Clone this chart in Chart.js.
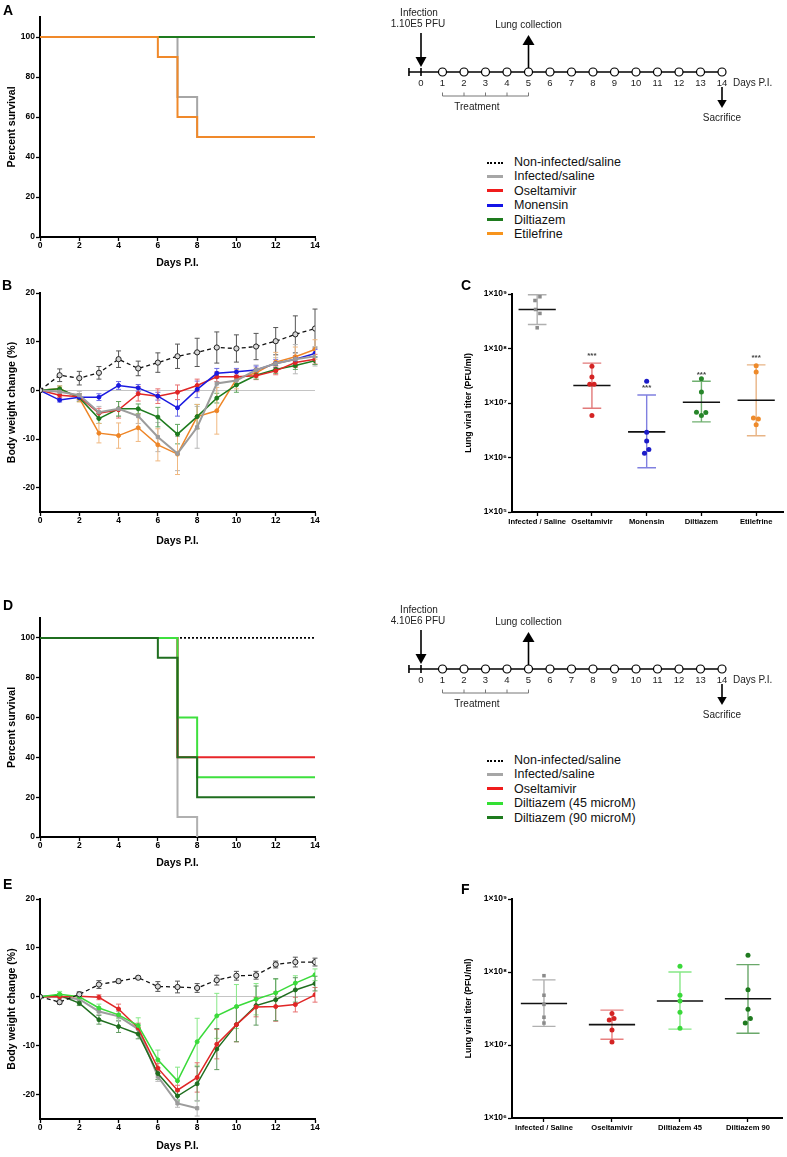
<!DOCTYPE html>
<html>
<head>
<meta charset="utf-8">
<script src="https://cdn.jsdelivr.net/npm/chart.js@4.4.0/dist/chart.umd.min.js"></script>
<style>
  body { margin:0; background:#fff; width:787px; height:1157px; position:relative; overflow:hidden;
         font-family:"Liberation Sans", Arial, sans-serif; }
  .box { position:absolute; }
  .letter { position:absolute; font-weight:bold; font-size:14px; line-height:14px; }
  .legend { position:absolute; font-size:12.5px; color:#111; }
  .legend .row { height:14.4px; line-height:14.4px; position:relative; padding-left:27px; white-space:nowrap; }
  .legend .sw { position:absolute; left:0; top:5.5px; width:16px; height:0; border-top:3.5px solid; }
  .legend .sw.dot { border-top:2px dotted #000; top:7px; }
</style>
</head>
<body>
<script>
// ---- shared ----
var days = [0,1,2,3,4,5,6,7,8,9,10,11,12,13,14];
var dayTicks = [0,2,4,6,8,10,12,14];
var survTicks = [0,20,40,60,80,100];
var weightTicks = [-20,-10,0,10,20];

// ---- experiment 1 (A, B, C) ----
var groups1 = ['Non-infected/saline','Infected/saline','Oseltamivir','Monensin','Diltiazem','Etilefrine'];
var legendColors1 = ['#000','#a6a6a6','#f01c1c','#1414e6','#1e7b1e','#f7941d'];

// Kaplan-Meier steps: [day, percent]
var survA_NonInf = [[0,100],[14,100]];
var survA_Infected = [[0,100],[7,70],[8,50],[14,50]];
var survA_Oseltamivir = [[0,100],[14,100]];
var survA_Monensin = [[0,100],[14,100]];
var survA_Diltiazem = [[0,100],[14,100]];
var survA_Etilefrine = [[0,100],[6,90],[7,60],[8,50],[14,50]];

var wB_NonInf = [0,3.1,2.5,3.6,6.4,4.5,5.7,7.0,7.8,8.8,8.6,9.0,10.1,11.5,12.7];
var sdB_NonInf = [0,1.3,1.4,1.3,1.7,1.5,2.0,2.5,2.9,3.2,2.8,2.7,2.8,3.8,4.0];
var wB_Infected = [0,-0.3,-1.0,-4.5,-3.8,-5.3,-9.6,-13.0,-7.6,1.4,2.0,4.2,5.5,6.4,7.0];
var sdB_Infected = [0,0.5,0.8,1.2,1.5,1.5,3.0,3.5,4.3,1.5,1.0,1.0,1.2,3.0,2.0];
var wB_Oseltamivir = [0,-1.0,-1.3,-4.7,-4.0,-0.7,-1.2,-0.4,1.0,2.8,2.8,3.0,4.0,5.7,6.4];
var sdB_Oseltamivir = [0,0.5,0.6,1.0,1.7,1.5,1.5,1.5,1.3,1.0,0.8,0.8,0.8,1.0,1.0];
var wB_Monensin = [0,-2.0,-1.4,-1.4,1.0,0.5,-1.2,-3.6,0.2,3.5,3.8,4.2,5.5,6.4,7.6];
var sdB_Monensin = [0,0.4,0.6,0.7,0.8,0.7,0.8,1.7,1.7,1.0,0.7,0.8,0.8,0.7,0.8];
var wB_Diltiazem = [0,0.3,-1.5,-5.8,-3.8,-3.8,-5.5,-9.0,-5.4,-1.6,1.1,3.1,4.3,5.1,6.1];
var sdB_Diltiazem = [0,0.6,0.8,1.0,1.5,1.0,2.0,2.0,2.5,1.0,1.5,0.8,0.8,0.8,0.8];
var wB_Etilefrine = [0,0.3,-1.6,-8.8,-9.3,-7.7,-11.2,-13.1,-5.4,-4.2,2.3,3.6,5.8,6.9,8.4];
var sdB_Etilefrine = [0,0.6,0.8,2.0,2.6,2.8,3.3,4.2,2.5,4.8,2.0,1.0,2.0,2.0,2.0];

var catsC = ['Infected / Saline','Oseltamivir','Monensin','Diltiazem','Etilefrine'];
var titerC_Infected = [8.9e8,7.6e8,5.2e8,4.4e8,2.4e8];
var titerC_Oseltamivir = [4.7e7,3.0e7,2.2e7,2.2e7,5.9e6];
var titerC_Monensin = [2.5e7,2.9e6,2.0e6,1.4e6,1.2e6];
var titerC_Diltiazem = [2.8e7,1.6e7,6.8e6,6.7e6,5.9e6];
var titerC_Etilefrine = [4.8e7,3.7e7,5.3e6,5.1e6,4.0e6];
var jitterC = [[0.05,-0.04,-0.03,0.05,0],[0,0,-0.04,0.04,0],[0,0,0,0.04,-0.04],[0,0,-0.09,0.08,0],[0,0,-0.05,0.04,0]];
var meanC = [5.2e8,2.1e7,2.95e6,1.03e7,1.12e7];
var sdHiC = [9.7e8,5.4e7,1.4e7,2.5e7,5.0e7];
var sdLoC = [2.75e8,8.0e6,6.5e5,4.5e6,2.5e6];
var sigC = ['','***','***','***','***'];
var titerTicks = [1e5,1e6,1e7,1e8,1e9];

// ---- experiment 2 (D, E, F) ----
var groups2 = ['Non-infected/saline','Infected/saline','Oseltamivir','Diltiazem (45 microM)','Diltiazem (90 microM)'];
var legendColors2 = ['#000','#a6a6a6','#f01c1c','#33e033','#1e7b1e'];

var survD_NonInf = [[0,100],[14,100]];
var survD_Infected = [[0,100],[7,10],[8,0]];
var survD_Oseltamivir = [[0,100],[7,40],[14,40]];
var survD_Dilt45 = [[0,100],[7,60],[8,30],[14,30]];
var survD_Dilt90 = [[0,100],[6,90],[7,40],[8,20],[14,20]];

var wE_NonInf = [0,-1.1,0.5,2.5,3.2,3.9,2.1,2.0,1.8,3.4,4.3,4.4,6.6,7.1,7.1];
var sdE_NonInf = [0,0.4,0.5,0.8,0.4,0.3,1.0,1.2,0.9,1.0,0.9,0.8,0.7,1.0,0.8];
var wE_Infected = [0,0,-0.5,-3.0,-4.0,-6.6,-16.3,-21.8,-22.8];
var sdE_Infected = [0,0.4,0.5,0.6,1.0,1.0,1.0,0.8,1.6];
var wE_Oseltamivir = [0,0,0.1,-0.1,-2.5,-6.4,-14.6,-19.1,-16.5,-9.7,-5.7,-2.1,-2.0,-1.6,0.4];
var sdE_Oseltamivir = [0,0,0.3,0.5,1.0,1.0,1.0,1.0,3.0,3.0,3.5,2.0,3.0,1.5,1.5];
var wE_Dilt45 = [0,0.5,0,-2.3,-3.7,-5.9,-12.9,-17.2,-9.2,-3.9,-2.0,-0.5,0.8,2.8,4.5];
var sdE_Dilt45 = [0,0.6,0.4,0.8,0.8,1.6,2.0,2.8,4.8,4.6,4.5,3.2,2.8,1.5,1.2];
var wE_Dilt90 = [0,0.3,-1.3,-4.7,-6.1,-7.6,-15.7,-20.3,-17.8,-10.7,-5.7,-1.8,-0.6,1.4,2.7];
var sdE_Dilt90 = [0,0.4,0.5,0.9,1.2,1.0,1.2,1.0,3.5,4.2,3.5,4.0,4.3,2.5,1.5];

var catsF = ['Infected / Saline','Oseltamivir','Diltiazem 45','Diltiazem 90'];
var titerF_Infected = [8.9e7,4.8e7,3.6e7,2.4e7,2.0e7];
var titerF_Oseltamivir = [2.7e7,2.3e7,2.2e7,1.6e7,1.1e7];
var titerF_Dilt45 = [1.2e8,4.8e7,4.0e7,2.8e7,1.7e7];
var titerF_Dilt90 = [1.7e8,5.7e7,3.1e7,2.3e7,2.0e7];
var jitterF = [[0,0,0,0,0],[0,0.03,-0.04,0,0],[0,0,0,0,0],[0,0,0,0.035,-0.04]];
var meanF = [3.7e7,1.9e7,4.0e7,4.3e7];
var sdHiF = [7.8e7,3.0e7,1.0e8,1.26e8];
var sdLoF = [1.8e7,1.2e7,1.65e7,1.45e7];
var sigF = ['','','',''];
var titerTicksF = [1e6,1e7,1e8,1e9];

// ---- timelines ----
var tlDays = days;
var tlTreatDays = [1,2,3,4,5];
var tl1Infection = ['Infection','1.10E5 PFU'];
var tl2Infection = ['Infection','4.10E6 PFU'];

var FONT = '"Liberation Sans", Arial, sans-serif';
Chart.defaults.font.family = FONT;
Chart.defaults.color = '#000';
Chart.defaults.animation = false;
Chart.defaults.plugins.legend.display = false;
Chart.defaults.plugins.tooltip.enabled = false;

function makeCanvas(left, top, w, h) {
  var div = document.createElement('div');
  div.className = 'box';
  div.style.left = left + 'px';
  div.style.top = top + 'px';
  var c = document.createElement('canvas');
  c.width = w; c.height = h;
  c.style.width = w + 'px'; c.style.height = h + 'px';
  div.appendChild(c);
  document.body.appendChild(div);
  return c.getContext('2d');
}

// place a chart so its plot area lands on page box {l,t,r,b}
function place(left, top, w, h, area, config) {
  config.options.responsive = false;
  config.options.devicePixelRatio = 1;
  config.options.layout = {padding: {top: area.t - top, right: left + w - area.r, left: 0, bottom: 0}};
  var xs = config.options.scales.x, ys = config.options.scales.y;
  xs.afterFit = function(s) { s.height = top + h - area.b; };
  if (ys.display === false) config.options.layout.padding.left = area.l - left;
  else ys.afterFit = function(s) { s.width = area.l - left; };
  return new Chart(makeCanvas(left, top, w, h), config);
}

function fixedTicks(list) {
  return function(s) { s.ticks = list.map(function(v) { return {value: v}; }); };
}

function axisGrid(zero) {
  return {
    display: true, drawOnChartArea: !!zero, drawTicks: true, tickLength: 4,
    tickColor: '#000', tickWidth: 1.3, lineWidth: 1,
    color: function(c) { return zero && c.tick && c.tick.value === 0 ? '#c4c4c4' : 'rgba(0,0,0,0)'; }
  };
}

function dayAxis() {
  return {
    type: 'linear', min: 0, max: 14,
    afterBuildTicks: fixedTicks(dayTicks),
    grid: axisGrid(false),
    border: {display: true, color: '#000', width: 2},
    ticks: {font: {size: 8.5, weight: 'bold'}, padding: 0, maxRotation: 0, autoSkip: false},
    title: {display: true, text: 'Days P.I.', font: {size: 10.5, weight: 'bold'}, padding: {top: 0, bottom: 4}}
  };
}

function valueAxis(min, max, ticks, title, zero) {
  return {
    type: 'linear', min: min, max: max,
    afterBuildTicks: fixedTicks(ticks),
    grid: axisGrid(zero),
    border: {display: true, color: '#000', width: 2},
    ticks: {font: {size: 8.5, weight: 'bold'}, padding: 1},
    title: {display: true, text: title, font: {size: 10.5, weight: 'bold'}, padding: {top: 6, bottom: 0}}
  };
}

function survSet(pairs, color, dash) {
  return {
    data: pairs.map(function(p) { return {x: p[0], y: p[1]}; }),
    stepped: true, borderColor: color, borderWidth: dash ? 1.6 : 2,
    borderDash: dash || [], pointRadius: 0, fill: false
  };
}

function weightSet(vals, sds, color, errColor, style) {
  style = style || {};
  return {
    data: vals.map(function(v, i) { return {x: days[i], y: v}; }),
    errors: sds, errorColor: errColor,
    borderColor: color, borderWidth: style.width || 1.5, borderDash: style.dash || [],
    pointStyle: style.point || 'circle', pointRadius: style.radius || 2,
    pointBackgroundColor: style.fill || color, pointBorderColor: style.pointBorder || color,
    pointBorderWidth: 1, fill: false
  };
}

function titerSet(vals, idx, jit, color, shape) {
  return {
    type: 'scatter',
    data: vals.map(function(v, i) { return {x: idx + jit[i], y: v}; }),
    pointStyle: shape || 'circle', pointRadius: 2.5,
    pointBackgroundColor: color, pointBorderColor: color, pointBorderWidth: 0
  };
}

// SD error bars for the weight curves
var errorBars = {
  id: 'errorBars',
  beforeDatasetsDraw: function(chart) {
    var ctx = chart.ctx, ys = chart.scales.y;
    chart.data.datasets.forEach(function(ds, i) {
      if (!ds.errors) return;
      var meta = chart.getDatasetMeta(i);
      ctx.save();
      ctx.strokeStyle = ds.errorColor;
      ctx.lineWidth = 1;
      meta.data.forEach(function(pt, j) {
        var e = ds.errors[j];
        if (!e) return;
        var v = ds.data[j].y;
        var y1 = ys.getPixelForValue(v + e), y2 = ys.getPixelForValue(v - e);
        ctx.beginPath();
        ctx.moveTo(pt.x, y1); ctx.lineTo(pt.x, y2);
        ctx.moveTo(pt.x - 2.5, y1); ctx.lineTo(pt.x + 2.5, y1);
        ctx.moveTo(pt.x - 2.5, y2); ctx.lineTo(pt.x + 2.5, y2);
        ctx.stroke();
      });
      ctx.restore();
    });
  }
};

// mean line + SD bar + significance stars for the titer plots
var summary = {
  id: 'summary',
  beforeDatasetsDraw: function(chart, args, o) {
    var ctx = chart.ctx, xs = chart.scales.x, ys = chart.scales.y;
    ctx.save();
    o.means.forEach(function(m, i) {
      var xc = xs.getPixelForValue(i);
      var half = xs.getPixelForValue(i + 0.34) - xc;
      var cap = xs.getPixelForValue(i + 0.17) - xc;
      var yHi = ys.getPixelForValue(o.hi[i]), yLo = ys.getPixelForValue(o.lo[i]), yM = ys.getPixelForValue(m);
      ctx.strokeStyle = o.barColors[i];
      ctx.lineWidth = 1.4;
      ctx.beginPath();
      ctx.moveTo(xc, yHi); ctx.lineTo(xc, yLo);
      ctx.moveTo(xc - cap, yHi); ctx.lineTo(xc + cap, yHi);
      ctx.moveTo(xc - cap, yLo); ctx.lineTo(xc + cap, yLo);
      ctx.stroke();
      ctx.strokeStyle = '#111';
      ctx.lineWidth = 1.6;
      ctx.beginPath();
      ctx.moveTo(xc - half, yM); ctx.lineTo(xc + half, yM);
      ctx.stroke();
      if (o.sig[i]) {
        ctx.fillStyle = '#444';
        ctx.font = 'bold 8px ' + FONT;
        ctx.textAlign = 'center';
        ctx.textBaseline = 'bottom';
        ctx.fillText(o.sig[i], xc, yHi - 3);
      }
    });
    ctx.restore();
  }
};

// arrows, bracket and notes of the protocol timeline
var timeline = {
  id: 'timeline',
  afterDatasetsDraw: function(chart, args, o) {
    var ctx = chart.ctx, xs = chart.scales.x;
    var y0 = chart.scales.y.getPixelForValue(0);
    var xi = xs.getPixelForValue(o.infectionDay);
    var xc = xs.getPixelForValue(o.collectDay);
    var xsac = xs.getPixelForValue(o.sacrificeDay);
    ctx.save();
    ctx.fillStyle = '#000'; ctx.strokeStyle = '#000'; ctx.lineWidth = 1.6;
    function arrow(x, yFrom, yHeadBase, yTip, hw) {
      ctx.beginPath(); ctx.moveTo(x, yFrom); ctx.lineTo(x, yHeadBase); ctx.stroke();
      ctx.beginPath(); ctx.moveTo(x - hw, yHeadBase); ctx.lineTo(x + hw, yHeadBase); ctx.lineTo(x, yTip);
      ctx.closePath(); ctx.fill();
    }
    arrow(xi, y0 - 39, y0 - 15, y0 - 5, 5.5);
    arrow(xc, y0 - 4, y0 - 27, y0 - 37, 6);
    arrow(xsac, y0 + 15, y0 + 28, y0 + 36, 4.7);
    // treatment bracket
    var t0 = xs.getPixelForValue(o.treatDays[0]), t1 = xs.getPixelForValue(o.treatDays[o.treatDays.length - 1]);
    ctx.strokeStyle = '#777'; ctx.lineWidth = 1;
    ctx.beginPath();
    ctx.moveTo(t0, y0 + 24); ctx.lineTo(t1, y0 + 24);
    o.treatDays.forEach(function(d) {
      var x = xs.getPixelForValue(d);
      ctx.moveTo(x, y0 + 20.5); ctx.lineTo(x, y0 + 24);
    });
    ctx.stroke();
    // notes
    ctx.fillStyle = '#222';
    ctx.font = '10px ' + FONT;
    ctx.textAlign = 'center'; ctx.textBaseline = 'middle';
    ctx.fillText(o.infection[0], xi - 2, y0 - 58.5);
    ctx.fillText(o.infection[1], xi - 3, y0 - 48);
    ctx.fillText('Lung collection', xc, y0 - 47);
    ctx.fillText('Treatment', xs.getPixelForValue(2.6), y0 + 35);
    ctx.fillText('Sacrifice', xsac, y0 + 46.5);
    ctx.textAlign = 'left';
    ctx.fillText('Days P.I.', xsac + 11, y0 + 11.5);
    ctx.restore();
  }
};

function timelineChart(top, h, lineY, infection) {
  return place(390, top, 397, h, {l: 408.1, t: top, r: 730.6, b: lineY}, {
    type: 'line',
    data: {datasets: [
      {data: tlDays.slice(1).map(function(d) { return {x: d, y: 0}; }), showLine: false,
       pointRadius: 4, pointBackgroundColor: '#fff', pointBorderColor: '#000', pointBorderWidth: 1.2, clip: false},
      {data: [{x: -0.56, y: 0}, {x: 0, y: 0}], showLine: false, pointStyle: 'line', rotation: 90,
       pointRadius: 4, pointBorderColor: '#000', pointBorderWidth: 1.6, clip: false},
      {data: [{x: -0.56, y: 0}, {x: 14, y: 0}], borderColor: '#000', borderWidth: 1.6, pointRadius: 0, clip: false}
    ]},
    options: {
      scales: {
        x: {type: 'linear', min: -0.6, max: 14.4, afterBuildTicks: fixedTicks(tlDays),
            grid: {display: false, drawTicks: false, tickLength: 0}, border: {display: false},
            ticks: {color: '#222', font: {size: 9.5}, padding: 6, maxRotation: 0, autoSkip: false}},
        y: {display: false, min: 0, max: 1}
      },
      plugins: {timeline: {infection: infection, infectionDay: 0, collectDay: 5, sacrificeDay: 14, treatDays: tlTreatDays}}
    },
    plugins: [timeline]
  });
}

function titerChart(left, top, w, h, area, cats, sets, ticks, min, max, summaryOpts) {
  return place(left, top, w, h, area, {
    type: 'scatter',
    data: {datasets: sets},
    options: {
      scales: {
        x: {type: 'linear', min: min, max: max, afterBuildTicks: fixedTicks(cats.map(function(c, i) { return i; })),
            grid: axisGrid(false), border: {display: true, color: '#000', width: 2},
            ticks: {font: {size: 7.6, weight: 'bold'}, padding: 1, maxRotation: 0, autoSkip: false,
                    callback: function(v) { return cats[v]; }}},
        y: {type: 'logarithmic', min: ticks[0], max: ticks[ticks.length - 1], afterBuildTicks: fixedTicks(ticks),
            grid: axisGrid(false), border: {display: true, color: '#000', width: 2},
            ticks: {font: {size: 8.5, weight: 'bold'}, padding: 1,
                    callback: function(v) { return '1\u00d710' + '\u2070\u00b9\u00b2\u00b3\u2074\u2075\u2076\u2077\u2078\u2079'[Math.round(Math.log10(v))]; }},
            title: {display: true, text: 'Lung viral titer (PFU/ml)', font: {size: 8.8, weight: 'bold'}, padding: {top: 4, bottom: 0}}}
      },
      plugins: {summary: summaryOpts}
    },
    plugins: [summary]
  });
}

function legend(left, top, labels, colors) {
  var box = document.createElement('div');
  box.className = 'legend';
  box.style.left = left + 'px';
  box.style.top = top + 'px';
  labels.forEach(function(lab, i) {
    var row = document.createElement('div');
    row.className = 'row';
    var sw = document.createElement('span');
    sw.className = i === 0 ? 'sw dot' : 'sw';
    if (i > 0) sw.style.borderTopColor = colors[i];
    row.appendChild(sw);
    row.appendChild(document.createTextNode(lab));
    box.appendChild(row);
  });
  document.body.appendChild(box);
}

function letter(ch, left, top) {
  var d = document.createElement('div');
  d.className = 'letter';
  d.style.left = left + 'px';
  d.style.top = top + 'px';
  d.textContent = ch;
  document.body.appendChild(d);
}

var nonInfStyle = {dash: [4, 3], width: 1.3, radius: 2.6, fill: '#d8d8d8', pointBorder: '#222'};
var infStyle = {point: 'rect', radius: 2.3, width: 2};

// ---- A: survival, experiment 1 ----
place(0, 0, 330, 273, {l: 40, t: 17, r: 315, b: 237}, {
  type: 'line',
  data: {datasets: [
    survSet(survA_Etilefrine, '#f0892a'),
    survSet(survA_Diltiazem, '#1e7b1e'),
    survSet(survA_Monensin, '#1414e6'),
    survSet(survA_Oseltamivir, '#e8262a'),
    survSet(survA_Infected, '#a6a6a6'),
    survSet(survA_NonInf, '#000', [2, 2])
  ]},
  options: {scales: {x: dayAxis(), y: valueAxis(0, 110, survTicks, 'Percent survival', false)}}
});

// ---- B: body weight, experiment 1 ----
place(0, 280, 330, 271, {l: 40, t: 293, r: 315, b: 512}, {
  type: 'line',
  data: {datasets: [
    weightSet(wB_NonInf, sdB_NonInf, '#111', '#555', nonInfStyle),
    weightSet(wB_Infected, sdB_Infected, '#9c9c9c', '#b8b8b8', infStyle),
    weightSet(wB_Monensin, sdB_Monensin, '#1a1ae0', '#6a6ae8'),
    weightSet(wB_Oseltamivir, sdB_Oseltamivir, '#e02626', '#e87070'),
    weightSet(wB_Diltiazem, sdB_Diltiazem, '#1e7b1e', '#62a862'),
    weightSet(wB_Etilefrine, sdB_Etilefrine, '#ee8526', '#f0b880')
  ]},
  options: {scales: {x: dayAxis(), y: valueAxis(-25, 20, weightTicks, 'Body weight change (%)', true)}},
  plugins: [errorBars]
});

// ---- C: lung titers, experiment 1 ----
titerChart(459, 280, 328, 255, {l: 512, t: 294, r: 783, b: 512}, catsC, [
  titerSet(titerC_Infected, 0, jitterC[0], '#8a8a8a', 'rect'),
  titerSet(titerC_Oseltamivir, 1, jitterC[1], '#d42424'),
  titerSet(titerC_Monensin, 2, jitterC[2], '#1c1cc8'),
  titerSet(titerC_Diltiazem, 3, jitterC[3], '#27862a'),
  titerSet(titerC_Etilefrine, 4, jitterC[4], '#ee8a2a')
], titerTicks, -0.46, 4.49, {
  means: meanC, hi: sdHiC, lo: sdLoC, sig: sigC,
  barColors: ['#b0b0b0', '#e27a7a', '#8080e0', '#70b070', '#e8b485']
});

// ---- D: survival, experiment 2 ----
place(0, 600, 330, 273, {l: 40, t: 618, r: 315, b: 837}, {
  type: 'line',
  data: {datasets: [
    survSet(survD_Dilt90, '#1f6e1f'),
    survSet(survD_Dilt45, '#3ee03e'),
    survSet(survD_Oseltamivir, '#e8262a'),
    survSet(survD_Infected, '#b0b0b0'),
    survSet(survD_NonInf, '#000', [2, 2])
  ]},
  options: {scales: {x: dayAxis(), y: valueAxis(0, 110, survTicks, 'Percent survival', false)}}
});

// ---- E: body weight, experiment 2 ----
place(0, 880, 330, 276, {l: 40, t: 899, r: 315, b: 1119}, {
  type: 'line',
  data: {datasets: [
    weightSet(wE_NonInf, sdE_NonInf, '#111', '#555', nonInfStyle),
    weightSet(wE_Dilt45, sdE_Dilt45, '#3ada3a', '#86e886'),
    weightSet(wE_Oseltamivir, sdE_Oseltamivir, '#e02626', '#e87070'),
    weightSet(wE_Dilt90, sdE_Dilt90, '#1f6e1f', '#5f9a5f'),
    weightSet(wE_Infected, sdE_Infected, '#9c9c9c', '#b8b8b8', infStyle)
  ]},
  options: {scales: {x: dayAxis(), y: valueAxis(-25, 20, weightTicks, 'Body weight change (%)', true)}},
  plugins: [errorBars]
});

// ---- F: lung titers, experiment 2 ----
titerChart(459, 870, 328, 275, {l: 512, t: 899, r: 782, b: 1118}, catsF, [
  titerSet(titerF_Infected, 0, jitterF[0], '#8a8a8a', 'rect'),
  titerSet(titerF_Oseltamivir, 1, jitterF[1], '#d42424'),
  titerSet(titerF_Dilt45, 2, jitterF[2], '#3ad83a'),
  titerSet(titerF_Dilt90, 3, jitterF[3], '#1f7a1f')
], titerTicksF, -0.47, 3.5, {
  means: meanF, hi: sdHiF, lo: sdLoF, sig: sigF,
  barColors: ['#b0b0b0', '#e88080', '#86e886', '#6aa86a']
});

// ---- timelines and legends ----
timelineChart(0, 130, 72, tl1Infection);
timelineChart(595, 135, 669, tl2Infection);
legend(487, 155, groups1, legendColors1);
legend(487, 753, groups2, legendColors2);

letter('A', 3, 3);
letter('B', 2, 278);
letter('C', 461, 278);
letter('D', 3, 598);
letter('E', 3, 877);
letter('F', 461, 882);
</script>
</body>
</html>
